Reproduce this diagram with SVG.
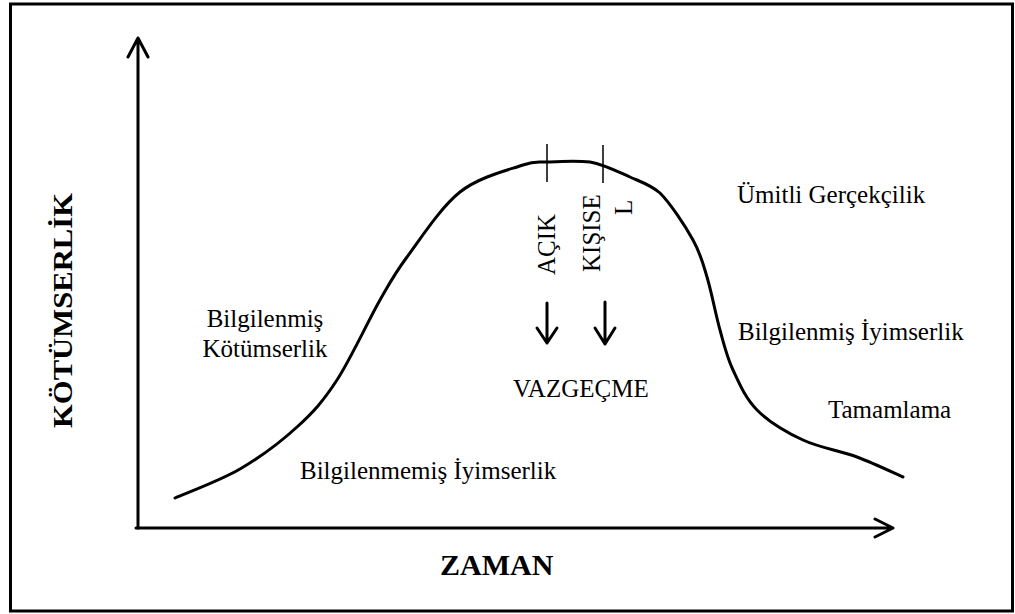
<svg xmlns="http://www.w3.org/2000/svg" width="1015" height="614" viewBox="0 0 1015 614">
<style>
.lbl{font-family:"Liberation Serif","Times New Roman",serif;font-size:25px;fill:#000}
.bold{font-family:"Liberation Serif","Times New Roman",serif;font-weight:bold;fill:#000}
.ax{stroke:#000;stroke-width:3;fill:none;stroke-linecap:round;stroke-linejoin:round}
.tick{stroke:#000;stroke-width:1.5;fill:none}
</style>
<rect x="0" y="0" width="1015" height="614" fill="#fff"/>
<rect x="10.5" y="4" width="1002" height="607" fill="none" stroke="#000" stroke-width="3"/>
<g id="connectors">
  <path class="ax" d="M138,528 V38 M128,57 L138,38 L148,57"/>
  <path class="ax" d="M136,528 H893 M875,519 L893,528 L875,537"/>
  <path class="ax" d="M175,498 C185.8,493.2 219.7,480.8 240,469 C260.3,457.2 280.8,441.8 297,427 C313.2,412.2 323.2,401.2 337,380 C350.8,358.8 368.3,320.5 380,300 C391.7,279.5 393.7,275 407,257 C420.3,239 440.7,207.3 460,192 C479.3,176.7 508.5,170 523,165 C535,161 535.8,162.5 547,162 C558.2,161.5 576.2,160.5 590,162 C603.8,164.5 618.3,171.8 630,177 C640,181.5 651,185 660,193 C670.5,203.5 685.2,226 693,240 C700.8,254 702.5,262 707,277 C711.5,292 715.7,314.5 720,330 C724.3,345.5 726.8,356.7 733,370 C739.2,383.3 745.3,398.3 757,410 C768.7,421.7 786.3,432.2 803,440 C819.7,447.8 840.3,450.8 857,457 C873.7,463.2 895.3,473.7 903,477"/>
  <path class="tick" d="M547,144 V182 M603,145 V183"/>
  <path class="ax" d="M547,303 V343 M537,328 L547,343 L557,328"/>
  <path class="ax" d="M605,302 V344 M595,328 L605,344 L615,328"/>
</g>
<g id="axis-y-label"><text class="bold" font-size="28" transform="translate(72,428) rotate(-90)" textLength="235" lengthAdjust="spacingAndGlyphs">KÖTÜMSERLİK</text></g>
<g id="axis-x-label"><text class="bold" font-size="30" x="440" y="575">ZAMAN</text></g>
<g id="n-acik"><text class="lbl" transform="translate(555,275) rotate(-90)">AÇIK</text></g>
<g id="n-kisisel"><text class="lbl" transform="translate(600,272) rotate(-90)">KIŞISE</text><text class="lbl" transform="translate(632,215) rotate(-90)">L</text></g>
<g id="n-vazgecme"><text class="lbl" x="513" y="397">VAZGEÇME</text></g>
<g id="n-bilgilenmis-kotumserlik"><text class="lbl" x="265" y="327" text-anchor="middle">Bilgilenmiş</text><text class="lbl" x="265" y="357" text-anchor="middle">Kötümserlik</text></g>
<g id="n-bilgilenmemis"><text class="lbl" x="300" y="479">Bilgilenmemiş İyimserlik</text></g>
<g id="n-umitli"><text class="lbl" x="737" y="203">Ümitli Gerçekçilik</text></g>
<g id="n-bilgilenmis-iyimserlik"><text class="lbl" x="738" y="340">Bilgilenmiş İyimserlik</text></g>
<g id="n-tamamlama"><text class="lbl" x="828" y="418">Tamamlama</text></g>
</svg>
